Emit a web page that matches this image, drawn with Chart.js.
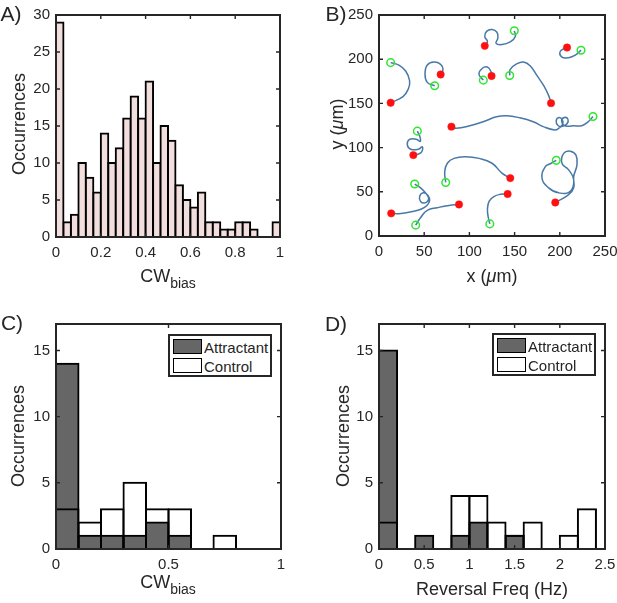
<!DOCTYPE html>
<html><head><meta charset="utf-8">
<script src="https://cdn.jsdelivr.net/npm/chart.js@4.4.1/dist/chart.umd.min.js"></script>
<style>
html,body{margin:0;padding:0;background:#fff}
body{width:617px;height:603px;overflow:hidden;position:relative;font-family:"Liberation Sans",Arial,sans-serif;color:#262626}
canvas{position:absolute}
.t{position:absolute;white-space:nowrap;font-size:18px;line-height:1;transform:translate(-50%,-50%)}
.rot{transform:translate(-50%,-50%) rotate(-90deg)}
.pl{position:absolute;font-size:21px;line-height:1;transform:translate(-50%,-50%);white-space:nowrap}
.leg{position:absolute;border:2px solid #262626;background:#fff;box-sizing:border-box;width:104px;height:43px}
.sw{position:absolute;left:3px;width:29px;height:15px;border:1.6px solid #000;box-sizing:border-box}
.lt{position:absolute;left:34px;font-size:15px;line-height:1;transform:translateY(-50%);white-space:nowrap}
.sub{font-size:14px;position:relative;top:6px}
</style></head><body>
<canvas id="cA"></canvas><canvas id="cB"></canvas><canvas id="cC"></canvas><canvas id="cD"></canvas>

<div class="pl" style="left:11px;top:13px">A)</div>
<div class="pl" style="left:336px;top:13px">B)</div>
<div class="pl" style="left:12px;top:322px">C)</div>
<div class="pl" style="left:336px;top:323px">D)</div>

<div class="t rot" style="left:19px;top:124px">Occurrences</div>
<div class="t" style="left:168px;top:276px">CW<span class="sub">bias</span></div>
<div class="t rot" style="left:337px;top:124px">y (<i>μ</i>m)</div>
<div class="t" style="left:492px;top:276px">x (<i>μ</i>m)</div>
<div class="t rot" style="left:18px;top:436px">Occurrences</div>
<div class="t" style="left:168px;top:582px">CW<span class="sub">bias</span></div>
<div class="t rot" style="left:343px;top:436px">Occurrences</div>
<div class="t" style="left:492px;top:589px">Reversal Freq (Hz)</div>

<div class="leg" style="left:168px;top:334px">
  <div class="sw" style="top:3px;background:#666"></div><div class="lt" style="top:11px">Attractant</div>
  <div class="sw" style="top:22px;background:#fff"></div><div class="lt" style="top:30px">Control</div>
</div>
<div class="leg" style="left:492px;top:333px">
  <div class="sw" style="top:3px;background:#666"></div><div class="lt" style="top:11px">Attractant</div>
  <div class="sw" style="top:22px;background:#fff"></div><div class="lt" style="top:30px">Control</div>
</div>

<script>
// ---------- DATA ----------
// Panel A: CW bias histogram (30 bins on [0,1])
const binWidthA = 1/30;
const cwCountsA = [29,2,3,10,8,6,14,10,12,16,19,16,21,10,15,13,7,5,4,6,2,2,1,1,2,2,1,0,0,2];
const xTicksA = [0,0.2,0.4,0.6,0.8,1];
const yTicksA = [0,5,10,15,20,25,30];

// Panel C: CW bias, attractant vs control (bins of 0.1)
const binWidthC = 0.1;
const attractantC = [14,1,1,1,2,1,0,0,0,0];
const controlC    = [3,2,3,5,3,3,0,1,0,0];
const xTicksC = [0,0.5,1];
const yTicksC = [0,5,10,15];

// Panel D: reversal frequency (bins of 0.2 Hz)
const binWidthD = 0.2;
const attractantD = [15,0,1,0,1,2,0,1,0,0,0,0];
const controlD    = [2,0,0,0,4,4,2,1,2,0,1,3];
const xTicksD = [0,0.5,1,1.5,2,2.5];
const yTicksD = [0,5,10,15];

// Panel B: trajectories (x, y in µm); first point = start (green), last = end (red)
const traj1 = [[12.9,196.1],[22,193.4],[29.5,186.7],[33.9,175.6],[32.4,166.3],[26.5,157.7],[12.9,150.7]];
const traj2 = [[61.6,170],[53.4,173.8],[50.9,183],[53.4,193.4],[60.8,196.8],[68.2,194.2],[70.8,188.6],[68.2,182.7]];
const traj3 = [[149.7,232.1],[150.8,225.8],[145.2,219.5],[136,216.5],[129.5,218],[131.5,224],[130.5,230.5],[125,233.5],[119,231.5],[117,225.5],[120,220],[117,215.1]];
const traj4 = [[223.5,210.2],[217.1,204.6],[209.8,201.7],[202.4,202.3],[200.6,209],[208,213.2]];
const traj5 = [[115.4,176.3],[110.6,183],[114.3,189.7],[119.8,191.2],[123.6,186.7],[124.5,181]];
const traj6 = [[144.6,181.6],[145.2,188.6],[152.7,195],[160,196.8],[167.4,192.3],[174.8,181.4],[182.2,170],[187.7,158.8],[190.3,150.3]];
const traj7 = [[236.7,135.2],[231.5,129.3],[224.2,124.8],[214.9,124.8],[210,124.2],[205,125],[202,130],[205,134],[209,132],[208,127],[203,124],[198,125],[196,130],[199,134],[203,131],[203,126],[199,122],[194.6,120],[181.7,123.7],[170.6,129.3],[155.8,133.7],[141,136],[130,134.8],[115.2,129.3],[100.4,124.8],[85.7,121.8],[80.1,123.7]];
const traj8 = [[42.4,118.6],[45,113.1],[45.7,107.1],[41.3,109.4],[33.9,109.4],[31.3,103.4],[35.1,98.2],[43.5,98.2],[47.9,100.8],[47.2,95.2],[42.4,92.3],[38,91.5]];
const traj9 = [[73.8,60.6],[72.7,72.9],[75.6,82.3],[83,87.8],[95.9,89.6],[110.6,87.8],[125,82.3],[136,71.1],[145.2,65.5]];
const traj10 = [[39.5,58.8],[46,54.4],[52,48],[55,42],[51,37.5],[46,39],[45,45],[49,49],[54,46],[56,40],[53,34.5],[47,30.5],[36.8,27.6],[22.1,25.3],[13.5,25.6]];
const traj11 = [[40.6,12.3],[46.1,20.9],[53.4,29],[64.5,32],[77.4,34.6],[88.5,35.7]];
const traj12 = [[122.6,13.7],[120.8,21.5],[120,30.8],[121.9,39.4],[127,44.6],[134.4,47.2],[142.3,47.5]];
const traj13 = [[196.1,85.6],[190,82],[184,78.5],[180.3,65.5],[187.7,54.4],[198.8,48.8],[211.6,50.6],[215.4,63.6],[209.8,74.8],[202.4,82.3],[204.3,93.4],[211.6,96],[217.9,91.5],[219,80.4],[215.4,67.3],[215.4,54.4],[209.8,46.9],[195,37.9]];
const trajectories = [traj1,traj2,traj3,traj4,traj5,traj6,traj7,traj8,traj9,traj10,traj11,traj12,traj13];
const ticksB = [0,50,100,150,200,250];

// ---------- RENDER ----------
Chart.defaults.font.family = '"Liberation Sans", Arial, sans-serif';
Chart.defaults.color = '#262626';
const INK = '#262626';

const framePlugin = {
  id: 'frame',
  afterDatasetsDraw(chart) {
    const {ctx, chartArea: a, scales} = chart;
    ctx.save();
    ctx.strokeStyle = INK;
    ctx.lineWidth = 1.4;
    const L = 4;
    ctx.beginPath();
    scales.x.ticks.forEach(t => {
      const p = scales.x.getPixelForValue(t.value);
      ctx.moveTo(p, a.bottom); ctx.lineTo(p, a.bottom - L);
      ctx.moveTo(p, a.top); ctx.lineTo(p, a.top + L);
    });
    scales.y.ticks.forEach(t => {
      const p = scales.y.getPixelForValue(t.value);
      ctx.moveTo(a.left, p); ctx.lineTo(a.left + L, p);
      ctx.moveTo(a.right, p); ctx.lineTo(a.right - L, p);
    });
    ctx.stroke();
    ctx.lineWidth = 2;
    ctx.strokeRect(a.left, a.top, a.right - a.left, a.bottom - a.top);
    ctx.restore();
  }
};

function axis(min, max, ticks, size, isY) {
  return {
    type: 'linear', min, max, offset: false,
    grid: {display: false, drawTicks: false},
    border: {display: false},
    title: {display: false},
    ticks: {font: {size: 15}, color: INK, padding: isY ? 6 : 7, maxRotation: 0, autoSkip: false,
      callback: v => String(+Number(v).toFixed(3))},
    afterBuildTicks(s) { s.ticks = ticks.map(v => ({value: v})); },
    afterFit(s) { if (isY) s.width = size; else s.height = size; }
  };
}

function make(id, ox, oy, w, h, area, type, datasets, xs, ys) {
  const c = document.getElementById(id);
  c.width = w; c.height = h;
  c.style.left = ox + 'px'; c.style.top = oy + 'px';
  c.style.width = w + 'px'; c.style.height = h + 'px';
  const yW = area.l - ox, padTop = area.t - oy, padRight = ox + w - area.r, xH = oy + h - area.b;
  return new Chart(c, {
    type,
    data: {datasets},
    options: {
      responsive: false, animation: false, devicePixelRatio: 1,
      layout: {padding: {left: 0, top: padTop, right: padRight, bottom: 0}},
      plugins: {legend: {display: false}, tooltip: {enabled: false}},
      scales: {
        x: axis(xs[0], xs[1], xs[2], xH, false),
        y: axis(ys[0], ys[1], ys[2], yW, true)
      }
    },
    plugins: [framePlugin]
  });
}

const toBars = (arr, bw) => arr.map((v, i) => ({x: (i + 0.5) * bw, y: v}));
const barBase = {barPercentage: 1, categoryPercentage: 1, borderSkipped: false, grouped: false, borderColor: '#000'};

// A
make('cA', 0, 0, 320, 300, {l: 56, t: 12, r: 280, b: 237}, 'bar', [
  Object.assign({}, barBase, {data: toBars(cwCountsA, binWidthA), backgroundColor: '#f3dede', borderWidth: 2, inflateAmount: 1})
], [0, 1, xTicksA], [0, 30, yTicksA]);

// B
const lineSets = trajectories.map(t => ({
  data: t.map(([x, y]) => ({x, y})), showLine: true, borderColor: '#4878a8', borderWidth: 1.5,
  pointRadius: 0, tension: 0.45, order: 2, fill: false
}));
const starts = {data: trajectories.map(t => ({x: t[0][0], y: t[0][1]})), showLine: false, order: 0,
  pointRadius: 3.8, pointBackgroundColor: 'rgba(255,255,255,0)', pointBorderColor: '#2ee62e', pointBorderWidth: 1.5};
const ends = {data: trajectories.map(t => ({x: t[t.length - 1][0], y: t[t.length - 1][1]})), showLine: false, order: 1,
  pointRadius: 3.7, pointBackgroundColor: '#ff1010', pointBorderColor: '#ff1010', pointBorderWidth: 0.5};
make('cB', 310, 0, 330, 300, {l: 379, t: 12, r: 605, b: 236}, 'scatter', [starts, ends, ...lineSets],
  [0, 250, ticksB], [0, 250, ticksB]);

// C
function pairSets(att, ctl, bw) {
  return [
    Object.assign({}, barBase, {data: toBars(att, bw), backgroundColor: '#666666', borderWidth: 2, inflateAmount: 1, order: 2}),
    Object.assign({}, barBase, {data: toBars(ctl, bw), backgroundColor: 'rgba(255,255,255,0)', borderWidth: 0.01, inflateAmount: 1, order: 1})
  ];
}
make('cC', 0, 305, 320, 298, {l: 56, t: 324, r: 281, b: 549}, 'bar', pairSets(attractantC, controlC, binWidthC),
  [0, 1, xTicksC], [0, 17, yTicksC]);

// D
make('cD', 310, 305, 330, 298, {l: 379, t: 324, r: 605, b: 549}, 'bar', pairSets(attractantD, controlD, binWidthD),
  [0, 2.5, xTicksD], [0, 17, yTicksD]);
</script>
</body></html>
